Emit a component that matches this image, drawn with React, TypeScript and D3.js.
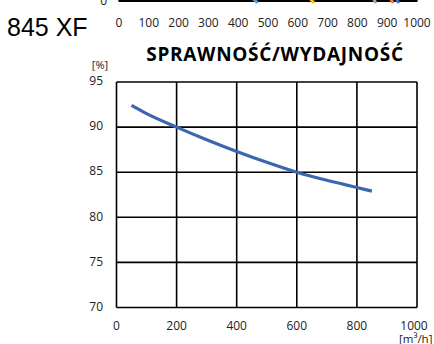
import React from "react";
import * as d3 from "d3";

const W = 434;
const H = 344;

// Bottom chart data
const flowValues = [50, 100, 200, 300, 400, 500, 600, 700, 800, 850];
const efficiencyValues = [92.4, 91.5, 90.0, 88.6, 87.3, 86.1, 85.0, 84.1, 83.3, 82.9];
const xTicks = [0, 200, 400, 600, 800, 1000];
const yTicks = [70, 75, 80, 85, 90, 95];

// Top (cut-off) chart
const topXTicks = [0, 100, 200, 300, 400, 500, 600, 700, 800, 900, 1000];
const topSeriesNames = ["s1", "s2", "s3", "s4", "s5"];
const topSeriesColors = ["#5B9BD5", "#FFC000", "#A5A5A5", "#ED7D31", "#4472C4"];
const topSeriesX = [
  [420, 462],
  [612, 652],
  [838, 860],
  [893, 918],
  [912, 937],
];
const topSeriesY = [
  [8, 0],
  [8, 0],
  [8, 0],
  [8, 0],
  [8, 0],
];

const FONT = "'Open Sans', sans-serif";

export default function App() {
  // bottom chart scales
  const x = d3.scaleLinear().domain([0, 1000]).range([116.5, 417]);
  const y = d3.scaleLinear().domain([70, 95]).range([307.5, 82]);
  const line = d3
    .line<number>()
    .x((_, i) => x(flowValues[i]))
    .y((d) => y(d))
    .curve(d3.curveMonotoneX);

  // top chart scales
  const tx = d3.scaleLinear().domain([0, 1000]).range([119, 417]);
  const ty = d3.scaleLinear().domain([0, 100]).range([2, -148]);
  const topLine = d3
    .line<[number, number]>()
    .x((d) => tx(d[0]))
    .y((d) => ty(d[1]));

  return (
    <svg
      width={W}
      height={H}
      style={{ position: "absolute", left: 0, top: 0, background: "#fff" }}
      fontFamily={FONT}
    >
      <rect x={0} y={0} width={W} height={H} fill="#fff" />
      {/* Top partial chart */}
      <g>
        {topXTicks.map((t) => (
          <line key={"tg" + t} x1={tx(t)} x2={tx(t)} y1={-10} y2={1.5} stroke="#000" strokeWidth={1.5} />
        ))}
        <line x1={tx(0)} x2={tx(1000)} y1={1} y2={1} stroke="#000" strokeWidth={1.8} />
        {topSeriesNames.map((n, i) => (
          <path
            key={n}
            d={topLine(topSeriesX[i].map((v, j) => [v, topSeriesY[i][j]] as [number, number])) || ""}
            fill="none"
            stroke={topSeriesColors[i]}
            strokeWidth={3}
            strokeLinecap="round"
          />
        ))}
        <text x={107} y={2} textAnchor="end" dominantBaseline="middle" fontSize={12} fill="#222">
          0
        </text>
        {topXTicks.map((t) => (
          <text key={"tl" + t} x={tx(t)} y={26.5} textAnchor="middle" fontSize={12} fill="#222">
            {t}
          </text>
        ))}
      </g>
      <text x={7} y={36} fontFamily="'Liberation Sans', Arial, sans-serif" fontSize={25} fill="#000">
        845 XF
      </text>

      {/* Title */}
      <text x={275} y={61} textAnchor="middle" fontSize={19} fontWeight={700} letterSpacing={0.7} fill="#000">
        SPRAWNOŚĆ/WYDAJNOŚĆ
      </text>
      <text x={100} y={69} textAnchor="middle" fontSize={11} fill="#222">
        [%]
      </text>

      {/* Grid */}
      {xTicks.map((t) => (
        <line key={"xg" + t} x1={x(t)} x2={x(t)} y1={y(95)} y2={y(70)} stroke="#000" strokeWidth={1.6} />
      ))}
      {yTicks.map((t) => (
        <line key={"yg" + t} x1={x(0)} x2={x(1000)} y1={y(t)} y2={y(t)} stroke="#000" strokeWidth={1.6} />
      ))}

      {/* Axis labels */}
      {yTicks.map((t) => (
        <text key={"yl" + t} x={103} y={y(t)} textAnchor="end" dominantBaseline="middle" fontSize={12} fill="#222">
          {t}
        </text>
      ))}
      {xTicks.map((t) => (
        <text
          key={"xl" + t}
          x={x(t) + (t === 1000 ? -3 : 0)}
          y={330}
          textAnchor="middle"
          fontSize={12}
          fill="#222"
        >
          {t}
        </text>
      ))}
      <text x={399} y={343} fontSize={11.5} fill="#222">
        [m³/h]
      </text>

      {/* Curve */}
      <path d={line(efficiencyValues) || ""} fill="none" stroke="#3A67B0" strokeWidth={3.2} strokeLinecap="butt" />
    </svg>
  );
}
